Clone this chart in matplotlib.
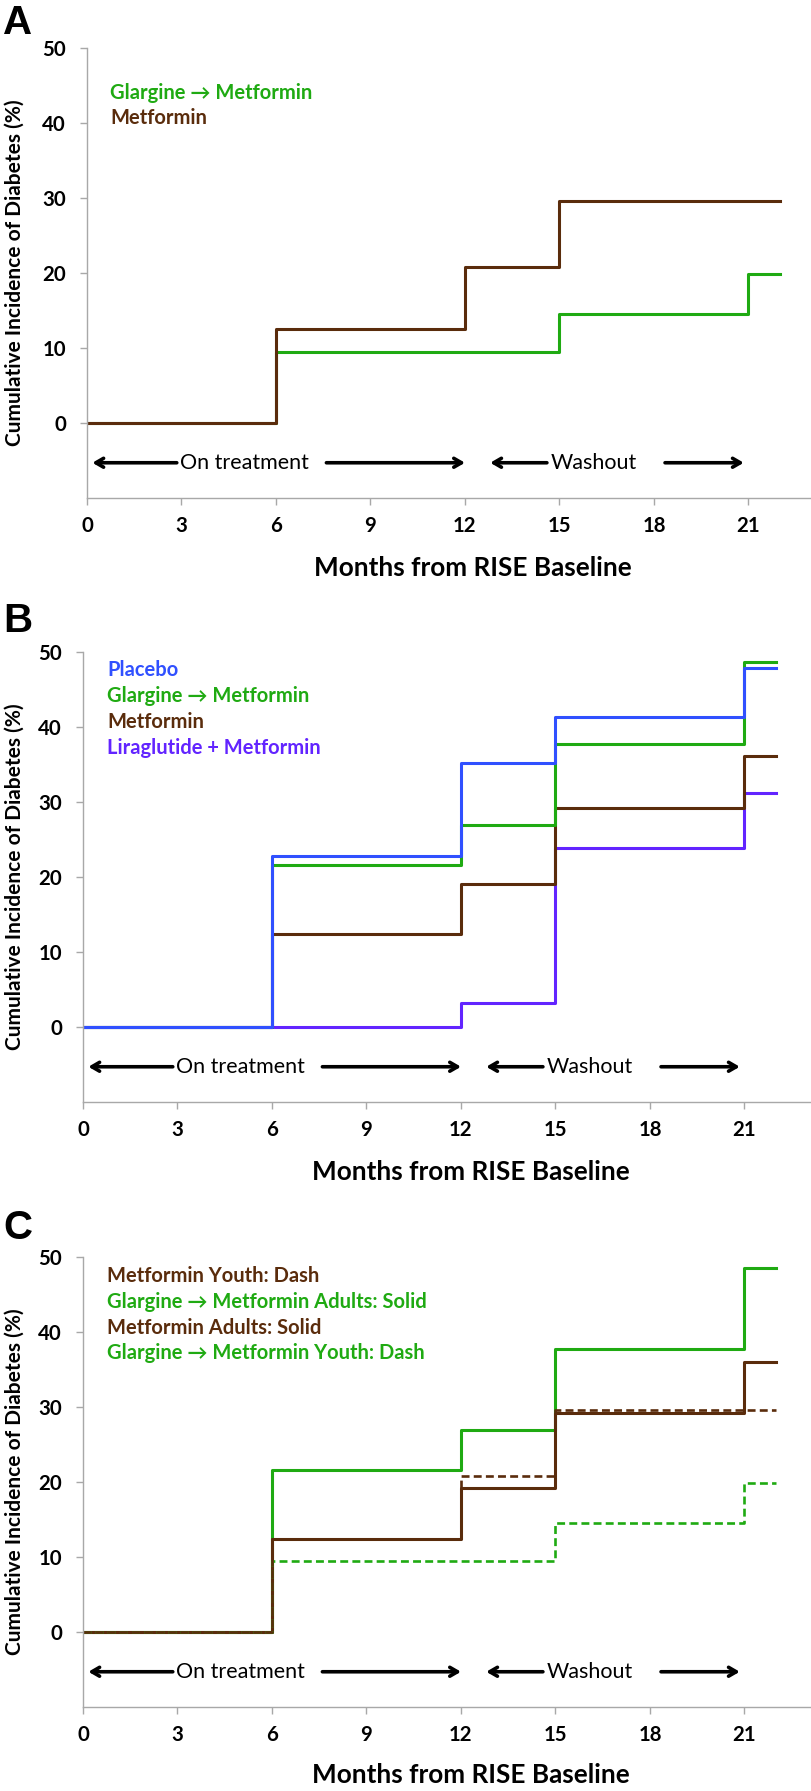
import matplotlib
matplotlib.use("Agg")
import matplotlib.pyplot as plt

# ---------------- data ----------------
months = [0, 6, 12, 15, 21, 22]
xticks = [0, 3, 6, 9, 12, 15, 18, 21]
yticks = [0, 10, 20, 30, 40, 50]

# Panel A (youth)
a_glargine_metformin = [0, 9.5, 9.5, 14.6, 19.9, 19.9]
a_metformin = [0, 12.5, 20.8, 29.6, 29.6, 29.6]

# Panel B (adults)
b_placebo = [0, 22.8, 35.2, 41.4, 47.9, 47.9]
b_glargine_metformin = [0, 21.6, 27.0, 37.8, 48.7, 48.7]
b_metformin = [0, 12.4, 19.1, 29.2, 36.1, 36.1]
b_liraglutide_metformin = [0, 0, 3.2, 23.9, 31.2, 31.2]

# Panel C (adults solid, youth dashed)
c_glargine_adults = [0, 21.6, 27.0, 37.8, 48.6, 48.6]
c_metformin_adults = [0, 12.4, 19.2, 29.2, 36.0, 36.0]
c_glargine_youth = [0, 9.5, 9.5, 14.6, 19.9, 19.9]
c_metformin_youth = [0, 12.4, 20.8, 29.6, 29.6, 29.6]

GREEN = "#1FAA12"
BROWN = "#5A2C0C"
BLUE = "#3050FF"
PURPLE = "#6224FF"
GRAY = "#A8A8A8"

FAM = ["Lato", "DejaVu Sans"]
plt.rcParams["font.family"] = FAM

W, H = 812, 1791
fig = plt.figure(figsize=(W / 100, H / 100), dpi=100)

TICK_FS = 14.7
LEG_FS = 14.5


def make_ax(left_px, bottom_px, xlabel_base_px):
    right_px = 812
    aw = right_px - left_px
    ax = fig.add_axes([left_px / W, 1 - bottom_px / H, aw / W, 450 / H])
    ax.set_xlim(0, aw / 31.5)
    ax.set_ylim(-10, 50)
    for s in ["top", "right"]:
        ax.spines[s].set_visible(False)
    for s in ["left", "bottom"]:
        ax.spines[s].set_color(GRAY)
        ax.spines[s].set_linewidth(1.0)
    ax.set_xticks(xticks)
    ax.set_yticks(yticks)
    ax.set_xticklabels([str(v) for v in xticks])
    ax.set_yticklabels([str(v) for v in yticks])
    ax.tick_params(axis="both", direction="out", length=5, width=1.0,
                   color=GRAY, labelsize=TICK_FS)
    ax.tick_params(axis="y", pad=10)
    ax.tick_params(axis="x", pad=8)
    for lab in ax.get_xticklabels() + ax.get_yticklabels():
        lab.set_fontweight("bold")
    ax.set_xlabel("Months from RISE Baseline", fontsize=18.8, fontweight="bold")
    ax.xaxis.label.set_va("baseline")
    ax.xaxis.set_label_coords(0.532, -(xlabel_base_px - bottom_px) / 450)
    ax.set_ylabel("Cumulative Incidence of Diabetes (%)", fontsize=15,
                  fontweight="bold")
    ax.yaxis.label.set_va("center")
    ax.yaxis.set_label_coords((15 - left_px) / aw, 0.5)
    # treatment arrows
    y = -5.3
    ap = dict(arrowstyle="->,head_length=0.55,head_width=0.32", lw=2.6,
              color="black", shrinkA=0, shrinkB=0)
    ax.annotate("", xy=(0.17, y), xytext=(2.85, y), arrowprops=ap)
    ax.annotate("", xy=(12.0, y), xytext=(7.6, y), arrowprops=ap)
    ax.annotate("", xy=(12.8, y), xytext=(14.6, y), arrowprops=ap)
    ax.annotate("", xy=(20.85, y), xytext=(18.35, y), arrowprops=ap)
    ax.text(5.0, y, "On treatment", ha="center", va="center", fontsize=15.5)
    ax.text(16.1, y, "Washout", ha="center", va="center", fontsize=15.5)
    return ax


def panel_letter(ypx, letter):
    fig.text(3 / W, 1 - ypx / H, letter, fontsize=29, fontweight="bold",
             family=["Liberation Sans", "DejaVu Sans"], ha="left", va="center")


LW = 2.2

# ---------- Panel A ----------
axA = make_ax(87, 498, 576)
axA.step(months, a_glargine_metformin, where="post", color=GREEN, lw=LW)
axA.step(months, a_metformin, where="post", color=BROWN, lw=LW)
axA.text(0.73, 44.0, "Glargine \u2192 Metformin", color=GREEN, fontsize=LEG_FS,
         fontweight="bold", va="center")
axA.text(0.73, 40.7, "Metformin", color=BROWN, fontsize=LEG_FS,
         fontweight="bold", va="center")
panel_letter(23, "A")

# ---------- Panel B ----------
axB = make_ax(83, 1102, 1180)
axB.step(months, b_liraglutide_metformin, where="post", color=PURPLE, lw=LW)
axB.step(months, b_metformin, where="post", color=BROWN, lw=LW)
axB.step(months, b_glargine_metformin, where="post", color=GREEN, lw=LW)
axB.step(months, b_placebo, where="post", color=BLUE, lw=LW)
legB = [("Placebo", BLUE), ("Glargine \u2192 Metformin", GREEN),
        ("Metformin", BROWN), ("Liraglutide + Metformin", PURPLE)]
for i, (t, c) in enumerate(legB):
    axB.text(0.76, 47.6 - 3.47 * i, t, color=c, fontsize=LEG_FS,
             fontweight="bold", va="center")
panel_letter(621, "B")

# ---------- Panel C ----------
axC = make_ax(83, 1707, 1783)
axC.step(months, c_glargine_adults, where="post", color=GREEN, lw=LW)
axC.step(months, c_metformin_adults, where="post", color=BROWN, lw=LW)
axC.step(months, c_glargine_youth, where="post", color=GREEN, lw=1.9,
         linestyle=(0, (3, 1.6)))
axC.step(months, c_metformin_youth, where="post", color=BROWN, lw=1.9,
         linestyle=(0, (3, 1.6)))
legC = [("Metformin Youth: Dash", BROWN),
        ("Glargine \u2192 Metformin Adults: Solid", GREEN),
        ("Metformin Adults: Solid", BROWN),
        ("Glargine \u2192 Metformin Youth: Dash", GREEN)]
for i, (t, c) in enumerate(legC):
    axC.text(0.76, 47.5 - 3.45 * i, t, color=c, fontsize=LEG_FS,
             fontweight="bold", va="center")
panel_letter(1228, "C")

fig.savefig("out.png", dpi=100)
